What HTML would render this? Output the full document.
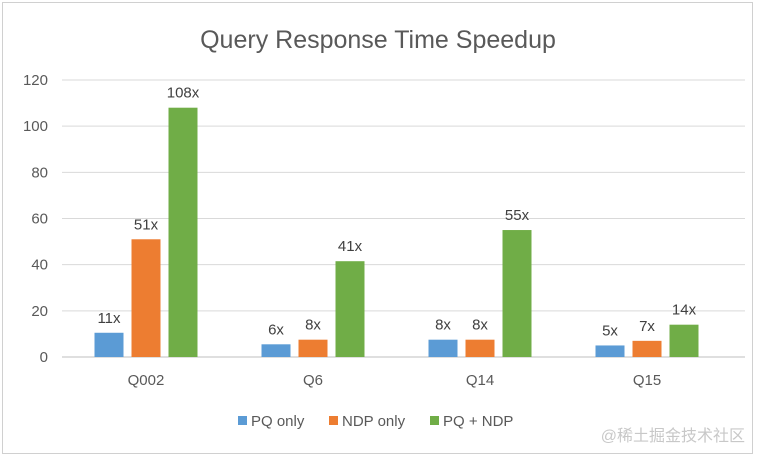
<!DOCTYPE html>
<html><head><meta charset="utf-8"><style>
body{margin:0;background:#fff;}
svg{display:block;font-family:"Liberation Sans","Noto Sans CJK SC",sans-serif;}
</style></head><body>
<svg id="chart" width="759" height="458" viewBox="0 0 759 458">
<rect x="2.5" y="2.5" width="750" height="451" fill="#fff" stroke="#d0d0d0"/>
<text x="378" y="48" text-anchor="middle" font-size="25" fill="#595959">Query Response Time Speedup</text>
<g id="grid"></g><g id="bars"></g>
<g font-size="15" fill="#595959">
<rect x="238" y="416" width="9" height="9" fill="#5b9bd5"/>
<text x="251" y="426">PQ only</text>
<rect x="329" y="416" width="9" height="9" fill="#ed7d31"/>
<text x="342" y="426">NDP only</text>
<rect x="430" y="416" width="9" height="9" fill="#70ad47"/>
<text x="443" y="426">PQ + NDP</text>
</g>
<text x="745" y="441" text-anchor="end" font-size="16" fill="#c8c8c8">@稀土掘金技术社区</text>
</svg>
<script>
const categories=["Q002","Q6","Q14","Q15"];
const pqOnly=[10.5,5.5,7.5,5];
const ndpOnly=[51,7.5,7.5,7];
const pqNdp=[108,41.5,55,14];
const pqLabels=["11x","6x","8x","5x"];
const ndpLabels=["51x","8x","8x","7x"];
const bothLabels=["108x","41x","55x","14x"];
const yTicks=[0,20,40,60,80,100,120];
const NS="http://www.w3.org/2000/svg";
const y=v=>357-v*(277/120);
const xc=i=>146+167*i;
function mk(tag,attrs,parent,txt){const e=document.createElementNS(NS,tag);for(const k in attrs)e.setAttribute(k,attrs[k]);if(txt!==undefined)e.textContent=txt;parent.appendChild(e);return e;}
const grid=document.getElementById('grid'),bars=document.getElementById('bars');
yTicks.forEach(t=>{
  const l=mk('line',{x1:62,x2:745,y1:y(t),y2:y(t),stroke:t===0?'#bfbfbf':'#d9d9d9'},grid);
  
  
  const tx=mk('text',{x:48,y:y(t)+5,'text-anchor':'end','font-size':15,fill:'#595959'},grid,String(t));
  
  
});
const series=[[pqOnly,pqLabels,'#5b9bd5','pq'],[ndpOnly,ndpLabels,'#ed7d31','ndp'],[pqNdp,bothLabels,'#70ad47','both']];
categories.forEach((c,i)=>{
  const ct=mk('text',{x:xc(i),y:385,'text-anchor':'middle','font-size':15,fill:'#595959'},grid,c);
  
  
  series.forEach((s,j)=>{
    const v=s[0][i],cx=xc(i)+(j-1)*37;
    const r=mk('rect',{x:cx-14.5,y:y(v),width:29,height:357-y(v),fill:s[2]},bars);
    
    
    const lt=mk('text',{x:cx,y:y(v)-10,'text-anchor':'middle','font-size':15,fill:'#404040'},bars,s[1][i]);
    
    
  });
});
</script>
</body></html>
